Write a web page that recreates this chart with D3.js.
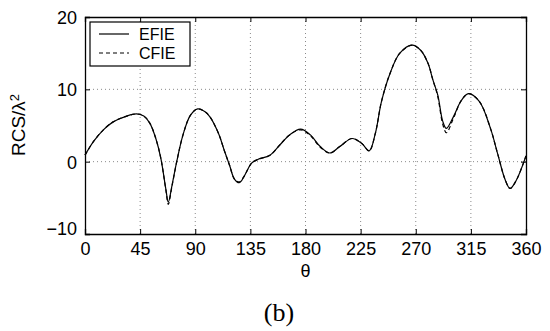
<!DOCTYPE html>
<html>
<head>
<meta charset="utf-8">
<script src="https://cdn.jsdelivr.net/npm/d3@7"></script>
<style>
  body { margin: 0; background: #fff; }
  svg { display: block; }
</style>
</head>
<body>
<div id="rcs"></div>
<script>
// angle samples (degrees)
var theta = [0, 7, 15, 23, 34, 42, 48, 53, 58, 62, 66, 68, 71, 75, 80, 86, 92, 98, 102, 109,
             114, 118, 122, 126, 130, 136, 141, 151, 159, 167, 176, 184, 192, 200, 208, 218, 226, 232, 237, 242,
             249, 257, 267, 274, 280, 284, 288, 292, 295, 301, 307, 313, 322, 331, 337, 343, 347, 352, 360];

var efie = [0.9, 2.8, 4.4, 5.5, 6.3, 6.6, 6.3, 5.3, 3.1, 0.4, -3.8, -5.6, -3.3, 0.1, 3.7, 6.4, 7.3, 6.9, 6.2, 3.9,
            1.4, -0.5, -2.4, -2.9, -2.0, -0.2, 0.3, 0.9, 2.3, 3.7, 4.5, 3.7, 2.1, 1.2, 2.1, 3.2, 2.5, 1.5, 3.9, 8.3,
            12.2, 15.0, 16.1, 15.4, 13.6, 11.3, 9.2, 5.6, 4.6, 6.3, 8.4, 9.4, 8.3, 4.6, 1.0, -2.5, -3.7, -2.6, 0.8];

var cfie = [0.9, 2.8, 4.4, 5.5, 6.3, 6.6, 6.3, 5.3, 3.1, 0.4, -3.9, -5.9, -3.4, 0.1, 3.7, 6.4, 7.3, 6.9, 6.2, 3.9,
            1.4, -0.5, -2.4, -2.8, -2.0, -0.2, 0.3, 0.9, 2.3, 3.7, 4.4, 3.6, 2.0, 1.2, 2.1, 3.2, 2.5, 1.5, 3.9, 8.3,
            12.2, 15.0, 16.1, 15.4, 13.6, 11.3, 9.0, 5.2, 4.0, 6.1, 8.4, 9.4, 8.3, 4.6, 1.0, -2.5, -3.7, -2.6, 0.8];

var xTicks = [0, 45, 90, 135, 180, 225, 270, 315, 360];
var yTicks = [-10, 0, 10, 20];
var seriesNames = ["EFIE", "CFIE"];

//
// plot box
//
var W = 550, H = 331;
var pLeft = 85, pRight = 526, pTop = 17, pBottom = 234;
var SANS = "'Liberation Sans', Arial, Helvetica, sans-serif";

var svg = d3.select("#rcs").append("svg")
	.attr("width", W)
	.attr("height", H)
	.style("font-family", SANS);

var x = d3.scaleLinear().domain([0, 360]).range([pLeft, pRight]);
var y = d3.scaleLinear().domain([-10, 20]).range([pBottom, pTop]);

//
// dotted grid
//
svg.append("g").selectAll("line")
	.data(xTicks.slice(1, -1))
	.enter().append("line")
	.attr("x1", function(d) { return x(d); })
	.attr("x2", function(d) { return x(d); })
	.attr("y1", pTop)
	.attr("y2", pBottom)
	.style("stroke", "#8a8a8a")
	.style("stroke-width", 1)
	.style("stroke-dasharray", "1,3");

svg.append("g").selectAll("line")
	.data(yTicks.slice(1, -1))
	.enter().append("line")
	.attr("x1", pLeft)
	.attr("x2", pRight)
	.attr("y1", function(d) { return y(d); })
	.attr("y2", function(d) { return y(d); })
	.style("stroke", "#8a8a8a")
	.style("stroke-width", 1)
	.style("stroke-dasharray", "1,3");

//
// axes (inward ticks on all four sides, matlab style)
//
var axB = svg.append("g")
	.attr("transform", "translate(0," + pBottom + ")")
	.call(d3.axisBottom(x).tickValues(xTicks).tickSize(-5).tickPadding(12).tickFormat(d3.format("d")));
var axT = svg.append("g")
	.attr("transform", "translate(0," + pTop + ")")
	.call(d3.axisTop(x).tickValues(xTicks).tickSize(-5).tickFormat(""));
var axL = svg.append("g")
	.attr("transform", "translate(" + pLeft + ",0)")
	.call(d3.axisLeft(y).tickValues(yTicks).tickSize(-5).tickPadding(8)
		.tickFormat(function(d) { return d < 0 ? "\u2212" + Math.abs(d) : d; }));
var axR = svg.append("g")
	.attr("transform", "translate(" + pRight + ",0)")
	.call(d3.axisRight(y).tickValues(yTicks).tickSize(-5).tickFormat(""));

[axB, axT, axL, axR].forEach(function(a) {
	a.attr("font-family", SANS).attr("font-size", 18);
	a.selectAll("path").style("stroke", "#000").style("stroke-width", 1.3);
	a.selectAll("line").style("stroke", "#000").style("stroke-width", 1);
	a.selectAll("text").style("fill", "#000");
});
axB.selectAll("text").attr("dy", "0.71em").attr("y", 8);
axL.selectAll("text").attr("dy", "0.36em");
// -10 label sits a bit higher as in the figure
axL.selectAll(".tick").filter(function(d) { return d === -10; }).select("text").attr("dy", "0.05em");

//
// curves
//
var line = d3.line()
	.x(function(d) { return x(d[0]); })
	.y(function(d) { return y(d[1]); })
	.curve(d3.curveCatmullRom.alpha(0.5));

svg.append("path")
	.datum(theta.map(function(t, i) { return [t, cfie[i]]; }))
	.attr("d", line)
	.style("fill", "none")
	.style("stroke", "#000")
	.style("stroke-width", 1.2)
	.style("stroke-dasharray", "4,3");

svg.append("path")
	.datum(theta.map(function(t, i) { return [t, efie[i]]; }))
	.attr("d", line)
	.style("fill", "none")
	.style("stroke", "#000")
	.style("stroke-width", 1.2);

//
// legend
//
var lg = svg.append("g").attr("transform", "translate(90,22)");
lg.append("rect")
	.attr("width", 100)
	.attr("height", 44)
	.style("fill", "#fff")
	.style("stroke", "#000")
	.style("stroke-width", 1.2);

var item = lg.selectAll(".item")
	.data(seriesNames)
	.enter().append("g")
	.attr("transform", function(d, i) { return "translate(0," + (12 + i * 19) + ")"; });

item.append("line")
	.attr("x1", 9)
	.attr("x2", 39)
	.style("stroke", "#000")
	.style("stroke-width", 1.2)
	.style("stroke-dasharray", function(d, i) { return i ? "4,3" : null; });

item.append("text")
	.attr("x", 49)
	.attr("dy", "0.36em")
	.style("font-size", "16px")
	.text(function(d) { return d; });

//
// axis titles
//
svg.append("text")
	.attr("x", x(180))
	.attr("y", 277)
	.attr("text-anchor", "middle")
	.style("font-size", "18px")
	.text("\u03b8");

var yl = svg.append("text")
	.attr("transform", "translate(25,125) rotate(-90)")
	.attr("text-anchor", "middle")
	.style("font-size", "19px");
yl.append("tspan").text("RCS/\u03bb");
yl.append("tspan").attr("dy", "-0.5em").style("font-size", "13px").text("2");

svg.append("text")
	.attr("x", 279)
	.attr("y", 321)
	.attr("text-anchor", "middle")
	.style("font-family", "'Liberation Serif', 'Times New Roman', serif")
	.style("font-size", "26px")
	.text("(b)");
</script>
</body>
</html>
